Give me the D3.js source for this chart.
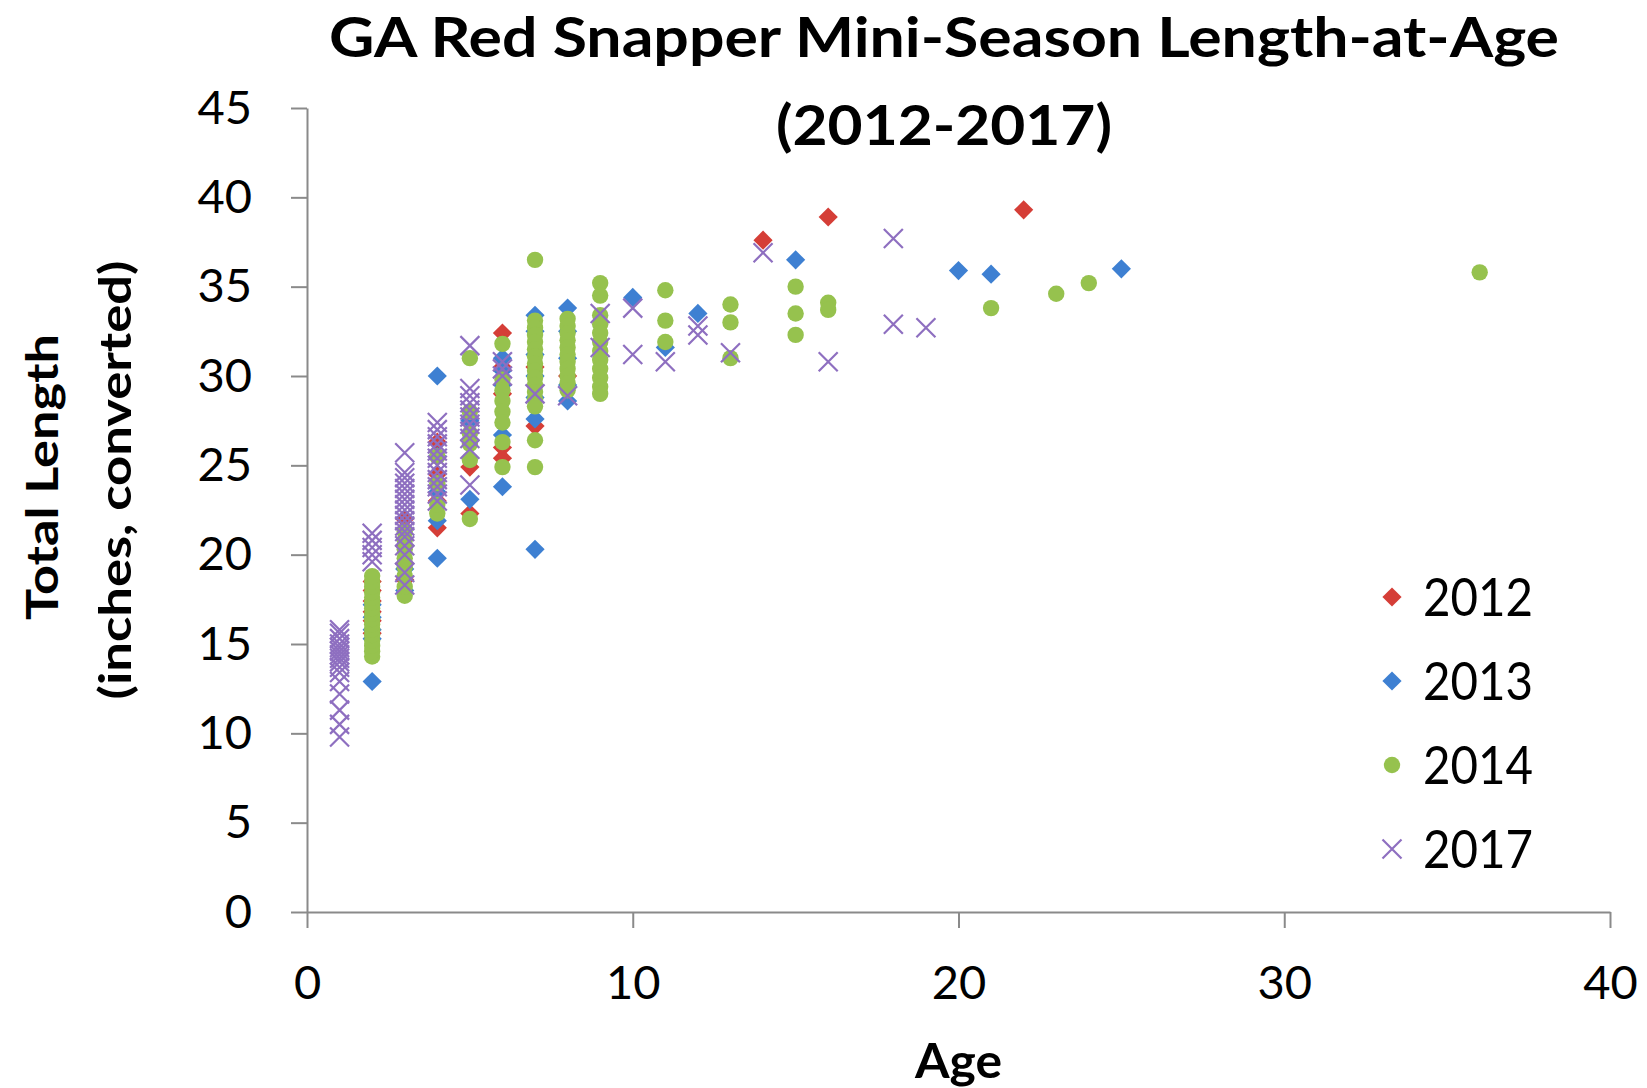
<!DOCTYPE html>
<html>
<head>
<meta charset="utf-8">
<script src="https://cdn.jsdelivr.net/npm/d3@7"></script>
<style>
  html, body { margin: 0; padding: 0; background: #fff; }
  svg { display: block; }
  text { font-family: Lato, "Open Sans", "Noto Sans", sans-serif; fill: #000; }
</style>
</head>
<body>
<svg id="chart" width="1647" height="1088"></svg>
<script>
// ---------- data (age, [total lengths in inches]) ----------
const seriesNames = ["2012", "2013", "2014", "2017"];
const xTicks = [0, 10, 20, 30, 40];
const yTicks = [0, 5, 10, 15, 20, 25, 30, 35, 40, 45];

const data2012 = [
  [2, [15.6, 16.3, 16.8, 17.4, 18.0, 18.5]],
  [3, [18.6, 19.5, 20.5, 22.0]],
  [4, [21.5, 23.0, 24.5, 26.3]],
  [5, [22.3, 24.9]],
  [6, [32.4, 30.5, 29.0, 26.0, 25.4]],
  [7, [27.2, 30.5]],
  [8, [30.0]],
  [14, [37.6]],
  [16, [38.9]],
  [22, [39.3]]
];
const data2013 = [
  [2, [12.9, 15.3, 15.8, 16.5, 17.2]],
  [3, [18.0, 19.2]],
  [4, [30.0, 19.8, 21.9, 23.5, 25.5]],
  [5, [23.1, 27.5]],
  [6, [31.0, 30.3, 29.5, 26.7, 23.8]],
  [7, [33.4, 32.5, 31.2, 30.0, 28.8, 27.6, 20.3]],
  [8, [33.8, 32.5, 31.0, 29.5, 28.6]],
  [10, [34.4]],
  [11, [31.6]],
  [12, [33.5]],
  [15, [36.5]],
  [20, [35.9]],
  [21, [35.7]],
  [25, [36.0]]
];
const data2014 = [
  [2, [14.3, 14.6, 14.9, 15.2, 15.5, 15.8, 16.1, 16.4, 16.7, 17.0, 17.3, 17.6, 17.9, 18.2, 18.5, 18.8]],
  [3, [17.7, 18.2, 18.8, 19.3, 19.8, 20.3, 20.8, 21.3]],
  [4, [22.3, 22.8, 24.0, 25.5]],
  [5, [31.0, 28.0, 26.8, 26.2, 25.3, 22.0]],
  [6, [31.8, 29.8, 29.2, 28.6, 28.0, 27.4, 26.3, 24.9]],
  [7, [36.5, 33.1, 32.7, 32.3, 31.9, 31.5, 31.1, 30.7, 30.3, 29.9, 29.5, 29.1, 28.7, 28.3, 26.4, 24.9]],
  [8, [33.2, 32.8, 32.4, 32.0, 31.6, 31.2, 30.8, 30.4, 30.0, 29.6, 29.2]],
  [9, [35.2, 34.5, 33.4, 32.9, 32.4, 31.9, 31.4, 30.9, 30.4, 29.9, 29.4, 29.0]],
  [11, [34.8, 33.1, 31.9]],
  [13, [34.0, 33.0, 31.0]],
  [15, [35.0, 33.5, 32.3]],
  [16, [34.1, 33.7]],
  [21, [33.8]],
  [23, [34.6]],
  [24, [35.2]],
  [36, [35.8]]
];
const data2017 = [
  [1, [9.8, 10.5, 11.3, 12.2, 12.9, 13.4, 13.7, 14.0, 14.2, 14.4, 14.6, 14.8, 15.0, 15.3, 15.6, 15.8]],
  [2, [19.6, 20.0, 20.4, 20.8, 21.2]],
  [3, [25.7, 24.6, 24.3, 24.0, 23.7, 23.4, 23.1, 22.8, 22.5, 22.2, 21.9, 21.6, 21.3, 21.0, 20.5, 20.0, 19.0, 18.3]],
  [4, [27.4, 27.0, 26.6, 26.2, 25.8, 25.4, 25.0, 24.6, 24.2, 23.8, 23.4, 23.0]],
  [5, [31.7, 29.3, 28.9, 28.5, 28.1, 27.7, 27.3, 26.9, 26.5, 25.9, 23.9]],
  [6, [30.8, 30.4, 30.0]],
  [7, [29.0]],
  [8, [28.9]],
  [9, [33.5, 31.6]],
  [10, [33.8, 31.2]],
  [11, [30.8]],
  [12, [32.8, 32.3]],
  [13, [31.3]],
  [14, [36.9]],
  [16, [30.8]],
  [18, [37.7, 32.9]],
  [19, [32.7]]
];

// ---------- layout ----------
const plot = { left: 307, right: 1610, top: 108, bottom: 912 };
const colors = { "2012": "#D53E37", "2013": "#3E80D2", "2014": "#96C24E", "2017": "#8E6FC0" };
const markerOf = { "2012": "diamond", "2013": "diamond", "2014": "circle", "2017": "cross" };
const axisColor = "#8a8a8a";

const svg = d3.select("#chart");
const x = d3.scaleLinear().domain([0, 40]).range([plot.left, plot.right]);
const y = d3.scaleLinear().domain([0, 45]).range([plot.bottom, plot.top]);

function flatten(arr) {
  const out = [];
  arr.forEach(([age, lens]) => lens.forEach(v => out.push({ age, len: v })));
  return out;
}
const allSeries = [
  { name: "2012", pts: flatten(data2012) },
  { name: "2013", pts: flatten(data2013) },
  { name: "2014", pts: flatten(data2014) },
  { name: "2017", pts: flatten(data2017) }
];

// ---------- axes ----------
const xAxis = d3.axisBottom(x).tickValues(xTicks).tickSize(16).tickSizeOuter(0).tickPadding(38);
const yAxis = d3.axisLeft(y).tickValues(yTicks).tickSize(16).tickSizeOuter(0).tickPadding(39);

const gx = svg.append("g").attr("transform", `translate(0,${plot.bottom})`).call(xAxis);
const gy = svg.append("g").attr("transform", `translate(${plot.left},0)`).call(yAxis);
[gx, gy].forEach(g => {
  g.select(".domain").attr("stroke", axisColor).attr("stroke-width", 2);
  g.selectAll(".tick line").attr("stroke", axisColor).attr("stroke-width", 2);
  g.selectAll(".tick text").attr("font-size", 47).attr("fill", "#000")
    .attr("font-family", 'Lato, "Open Sans", sans-serif');
});

// ---------- markers ----------
const R = 9.6;   // diamond half-diagonal
const CR = 8.2;  // circle radius
const XS = 9.5;  // cross half-size
function drawMarker(g, type, color) {
  if (type === "diamond") {
    g.append("path").attr("d", `M0,${-R}L${R},0L0,${R}L${-R},0Z`).attr("fill", color);
  } else if (type === "circle") {
    g.append("circle").attr("r", CR).attr("fill", color);
  } else {
    g.append("path").attr("d", `M${-XS},${-XS}L${XS},${XS}M${-XS},${XS}L${XS},${-XS}`)
      .attr("stroke", color).attr("stroke-width", 2.2).attr("fill", "none");
  }
}

const gPts = svg.append("g");
allSeries.forEach(s => {
  gPts.append("g").selectAll("g").data(s.pts).join("g")
    .attr("transform", d => `translate(${x(d.age)},${y(d.len)})`)
    .each(function () { drawMarker(d3.select(this), markerOf[s.name], colors[s.name]); });
});

// ---------- legend ----------
const legendRows = [597, 681, 765, 849];
const legend = svg.append("g");
seriesNames.forEach((name, i) => {
  const g = legend.append("g").attr("transform", `translate(1392,${legendRows[i]})`);
  drawMarker(g, markerOf[name], colors[name]);
  g.append("text").attr("x", 31).attr("y", 0).attr("dy", "0.36em")
    .attr("font-size", 52).attr("textLength", 110).attr("lengthAdjust", "spacingAndGlyphs")
    .text(name);
});

// ---------- titles ----------
svg.append("text").attr("x", 944).attr("y", 57).attr("text-anchor", "middle")
  .attr("font-size", 56).attr("font-weight", "bold")
  .attr("textLength", 1230).attr("lengthAdjust", "spacingAndGlyphs")
  .text("GA Red Snapper Mini-Season Length-at-Age");
svg.append("text").attr("x", 944).attr("y", 145).attr("text-anchor", "middle")
  .attr("font-size", 56).attr("font-weight", "bold")
  .attr("textLength", 336).attr("lengthAdjust", "spacingAndGlyphs")
  .text("(2012-2017)");

svg.append("text").attr("x", (plot.left + plot.right) / 2).attr("y", 1078).attr("text-anchor", "middle")
  .attr("font-size", 47).attr("font-weight", "bold")
  .attr("textLength", 87).attr("lengthAdjust", "spacingAndGlyphs")
  .text("Age");

svg.append("text").attr("transform", "translate(58,477) rotate(-90)").attr("text-anchor", "middle")
  .attr("font-size", 44).attr("font-weight", "bold")
  .attr("textLength", 286).attr("lengthAdjust", "spacingAndGlyphs")
  .text("Total Length");
svg.append("text").attr("transform", "translate(131,480) rotate(-90)").attr("text-anchor", "middle")
  .attr("font-size", 44).attr("font-weight", "bold")
  .attr("textLength", 439).attr("lengthAdjust", "spacingAndGlyphs")
  .text("(inches, converted)");
</script>
</body>
</html>
